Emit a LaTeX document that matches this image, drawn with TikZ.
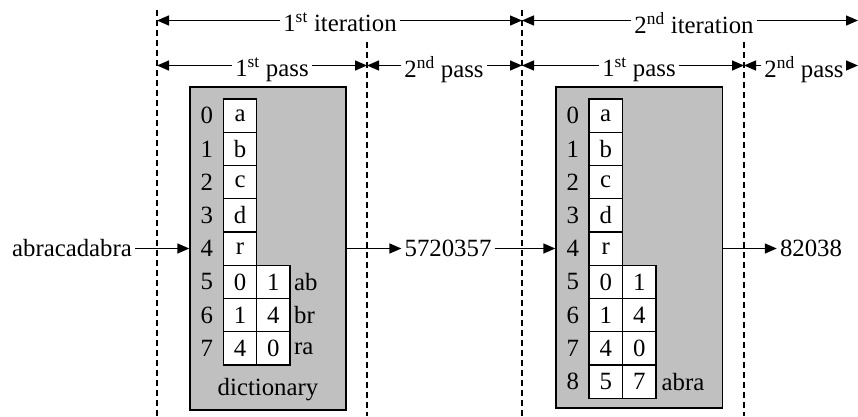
\documentclass[tikz,border=0pt]{standalone}
\usepackage{fontspec}
\setmainfont{Liberation Serif}
\usetikzlibrary{arrows.meta}
\definecolor{boxgray}{RGB}{192,192,192}
\begin{document}
\begin{tikzpicture}[x=1pt,y=-1pt,
  font=\fontsize{24.8}{28}\selectfont,
  line width=1.4pt,
  arr/.style={-{Triangle[length=12pt,width=10pt]}},
  dashline/.style={dash pattern=on 6pt off 4pt, line width=1.3pt},
  dictbox/.style={draw, fill=boxgray, line width=1.4pt, rectangle, inner sep=0pt},
  cell/.style={draw, fill=white, minimum width=33.3pt, minimum height=33.25pt, inner sep=0pt, line width=1.4pt},
  lbl/.style={inner sep=2.5pt}]
\useasboundingbox (0,0) rectangle (858,416);

% dashed separators
\coordinate (v1t) at (157,10);  \coordinate (v1b) at (157,416);
\coordinate (v2t) at (367,42);  \coordinate (v2b) at (367,416);
\coordinate (v3t) at (522,10);  \coordinate (v3b) at (522,416);
\coordinate (v4t) at (744,42);  \coordinate (v4b) at (744,416);
\foreach \v in {v1,v2,v3,v4} \draw[dashline] (\v t) -- (\v b);

% iteration row
\coordinate (i1l) at (157,20.5); \coordinate (i1r) at (522,20.5); \coordinate (i2r) at (858,20.5);
\node[lbl] (it1) at (340,22.7) {1\textsuperscript{st} iteration};
\node[lbl] (it2) at (694,22.7) {2\textsuperscript{nd} iteration};
\draw[arr] (it1.west |- i1l) -- (i1l);
\draw[arr] (it1.east |- i1l) -- (i1r);
\draw[arr] (it2.west |- i1l) -- (i1r);
\draw[arr] (it2.east |- i1l) -- (i2r);

% pass row
\coordinate (p1) at (157,65.5); \coordinate (p2) at (367,65.5); \coordinate (p3) at (522,65.5);
\coordinate (p4) at (744,65.5); \coordinate (p5) at (858,65.5);
\node[lbl] (pa1) at (272,69.4) {1\textsuperscript{st} pass};
\node[lbl] (pa2) at (444,69.4) {2\textsuperscript{nd} pass};
\node[lbl] (pa3) at (639,69.4) {1\textsuperscript{st} pass};
\node[lbl] (pa4) at (804,69.4) {2\textsuperscript{nd} pass};
\draw[arr] (pa1.west |- p1) -- (p1);
\draw[arr] (pa1.east |- p1) -- (p2);
\draw[arr] (pa2.west |- p1) -- (p2);
\draw[arr] (pa2.east |- p1) -- (p3);
\draw[arr] (pa3.west |- p1) -- (p3);
\draw[arr] (pa3.east |- p1) -- (p4);
\draw[arr] (pa4.west |- p1) -- (p4);
\draw[arr] (pa4.east |- p1) -- (p5);

% dictionary boxes
\node[dictbox, minimum width=156pt, minimum height=323pt] (box1) at (268,248.5) {};
\node[dictbox, minimum width=166.5pt, minimum height=321pt] (box2) at (639.25,247.5) {};

% box 1 contents
\foreach \t [count=\i from 0] in {a,b,c,d,r,0,1,4} {
  \node[cell] (ba\i) at (240,{99+33.25*\i+16.625}) {\t};
  \node (bi\i) at (206.7,{99+33.25*\i+16.625}) {\i};
}
\foreach \t [count=\i from 5] in {1,4,0}
  \node[cell] (bb\i) at (273.3,{99+33.25*\i+16.625}) {\t};
\foreach \t [count=\i from 5] in {ab,br,ra}
  \node[anchor=west, inner sep=0pt] (bl\i) at (293.5,{99+33.25*\i+16.625}) {\t};
\node (dict) at (268,390) {dictionary};

% box 2 contents
\foreach \t [count=\i from 0] in {a,b,c,d,r,0,1,4,5} {
  \node[cell] (ca\i) at (605.7,{99+33.25*\i+16.625}) {\t};
  \node (ci\i) at (572.7,{99+33.25*\i+16.625}) {\i};
}
\foreach \t [count=\i from 5] in {1,4,0,7}
  \node[cell] (cb\i) at (639.2,{99+33.25*\i+16.625}) {\t};
\node[anchor=west, inner sep=0pt] (cl8) at (661,{99+33.25*8+16.625}) {abra};

% data flow
\node[lbl] (in) at (72,248.5) {abracadabra};
\node[lbl] (mid) at (448,248.5) {5720357};
\node[lbl] (out) at (811,248.5) {82038};
\draw[arr] (in.east) -- (box1.west |- in.east);
\draw[arr] (box1.east |- mid.west) -- (mid.west);
\draw[arr] (mid.east) -- (box2.west |- mid.east);
\draw[arr] (box2.east |- out.west) -- (out.west);
\end{tikzpicture}
\end{document}
